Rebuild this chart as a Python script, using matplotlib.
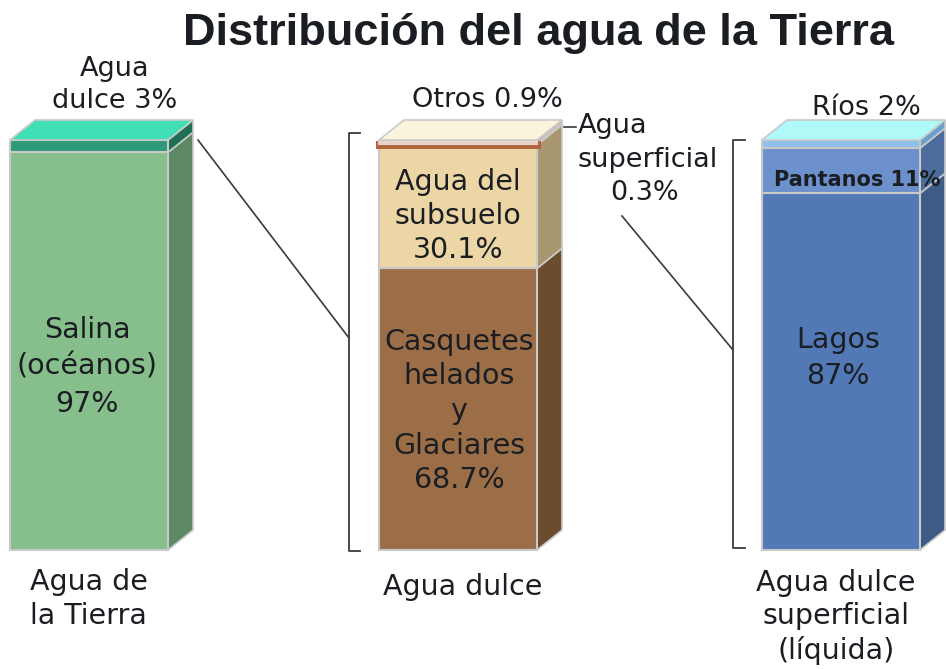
import matplotlib
matplotlib.use("Agg")
import matplotlib.pyplot as plt
from matplotlib.patches import Polygon
import numpy as np

# ---------------- data ----------------
bar_titles = ["Agua de\nla Tierra", "Agua dulce", "Agua dulce\nsuperficial\n(líquida)"]

tierra_labels = ["Salina (océanos)", "Agua dulce"]
tierra_values = [97, 3]

dulce_labels = ["Casquetes helados y Glaciares", "Agua del subsuelo", "Agua superficial", "Otros"]
dulce_values = [68.7, 30.1, 0.3, 0.9]

superficial_labels = ["Lagos", "Pantanos", "Ríos"]
superficial_values = [87, 11, 2]

# ---------------- styles ----------------
W_PX, H_PX = 946, 669
Y0_PX, Y100_PX = 550, 140          # pixel rows of 0 % and 100 %
PX_PER_UNIT = (Y0_PX - Y100_PX) / 100.0
DX, DY = 25, 20 / PX_PER_UNIT      # 3-D depth offset

centers = [89, 458, 841]
width = 158

front_colors = [
    ["#86bf8b", "#2f9a79"],
    ["#9c6e48", "#edd6a6", "#b0643c", "#e6d3c9"],
    ["#5279b5", "#6b90cb", "#8ec0ea"],
]
side_colors = [
    ["#5c8963", "#1f6f52"],
    ["#6b4d2e", "#a8966f", "#8a4a2b", "#c9b9a8"],
    ["#3e5b86", "#4b6c9c", "#6aa0cc"],
]
top_colors = ["#41dfb6", "#fbf4dc", "#b0f9f9"]
edge_col = "#c9c9c9"
text_col = "#1a1e22"

plt.rcParams['font.family'] = ['DejaVu Sans']

fig = plt.figure(figsize=(W_PX / 100, H_PX / 100), dpi=100)
fig.patch.set_facecolor("white")
ax = fig.add_axes([0, (H_PX - Y0_PX) / H_PX, 1, (Y0_PX - Y100_PX) / H_PX])
ax.set_xlim(0, W_PX)
ax.set_ylim(0, 100)
ax.axis("off")


def py(ypx):
    """pixel row -> data y"""
    return (Y0_PX - ypx) / PX_PER_UNIT


all_values = [tierra_values, dulce_values, superficial_values]
for i, vals in enumerate(all_values):
    bottoms = np.concatenate([[0], np.cumsum(vals)[:-1]])
    bars = ax.bar([centers[i]] * len(vals), vals, width=width, bottom=bottoms,
                  color=front_colors[i], edgecolor=edge_col, linewidth=1.5,
                  clip_on=False, zorder=3)
    for j, b in enumerate(bars):
        xr = b.get_x() + b.get_width()
        y0 = b.get_y()
        y1 = y0 + b.get_height()
        side = Polygon([[xr, y0], [xr + DX, y0 + DY], [xr + DX, y1 + DY], [xr, y1]],
                       closed=True, facecolor=side_colors[i][j], edgecolor=edge_col,
                       linewidth=1.2, clip_on=False, zorder=2)
        ax.add_patch(side)
    # thin segments get a thicker outline in their own colour so they remain visible
    if i == 1:
        bars[2].set_edgecolor(front_colors[1][2])
        bars[2].set_linewidth(5)
        bars[2].set_zorder(3.5)
        bars[3].set_edgecolor(front_colors[1][3])
        bars[3].set_linewidth(1.5)
        bars[3].set_zorder(4)
    top = bottoms[-1] + vals[-1]
    xl = bars[0].get_x()
    xr = xl + width
    topface = Polygon([[xl, top], [xl + DX, top + DY], [xr + DX, top + DY], [xr, top]],
                      closed=True, facecolor=top_colors[i], edgecolor=edge_col,
                      linewidth=1.2, clip_on=False, zorder=5)
    ax.add_patch(topface)

# ---------------- brackets and connectors ----------------
lc = "#3a3a3a"
ax.plot([360, 349, 349, 360], [py(133), py(133), py(551), py(551)], color=lc, lw=1.3, clip_on=False)
ax.plot([745, 733, 733, 745], [py(140), py(140), py(548), py(548)], color=lc, lw=1.3, clip_on=False)
ax.plot([198, 349], [py(140), py(338)], color=lc, lw=1.2, clip_on=False)
ax.plot([622, 733], [py(216), py(350)], color=lc, lw=1.2, clip_on=False)
ax.plot([564, 576], [py(127), py(127)], color=lc, lw=1.2, clip_on=False)

# ---------------- texts ----------------
fs = 20.5
fs2 = 19.5
kw = dict(color=text_col, clip_on=False, zorder=10)

ax.text(538, py(34), "Distribución del agua de la Tierra", ha="center", va="center",
        fontsize=32.5, fontweight="bold", family=["Liberation Sans", "DejaVu Sans"], **kw)

# bar 1
ax.text(115, py(85), "Agua\ndulce 3%", ha="center", va="center", fontsize=fs2, linespacing=1.3, **kw)
ax.text(87, py(367), "Salina\n(océanos)\n97%", ha="center", va="center", fontsize=fs, linespacing=1.4, **kw)
ax.text(30, py(599), bar_titles[0], ha="left", va="center", fontsize=fs, linespacing=1.25, **kw)

# bar 2
ax.text(487, py(100), "Otros 0.9%", ha="center", va="center", fontsize=fs2, **kw)
ax.text(578, py(126), "Agua", ha="left", va="center", fontsize=fs2, **kw)
ax.text(648, py(160), "superficial", ha="center", va="center", fontsize=fs2, **kw)
ax.text(645, py(193), "0.3%", ha="center", va="center", fontsize=fs2, **kw)
ax.text(458, py(216), "Agua del\nsubsuelo\n30.1%", ha="center", va="center", fontsize=fs, linespacing=1.25, **kw)
ax.text(459, py(411), "Casquetes\nhelados\ny\nGlaciares\n68.7%", ha="center", va="center", fontsize=fs, linespacing=1.3, **kw)
ax.text(463, py(587), bar_titles[1], ha="center", va="center", fontsize=fs, **kw)

# bar 3
ax.text(866, py(108), "Ríos 2%", ha="center", va="center", fontsize=fs2, **kw)
ax.text(857, py(180), "Pantanos 11%", ha="center", va="center", fontsize=15, fontweight="bold", **kw)
ax.text(838, py(358), "Lagos\n87%", ha="center", va="center", fontsize=fs, linespacing=1.4, **kw)
ax.text(836, py(617), bar_titles[2], ha="center", va="center", fontsize=fs, linespacing=1.25, **kw)

fig.savefig("out.png", dpi=100, facecolor="white")
